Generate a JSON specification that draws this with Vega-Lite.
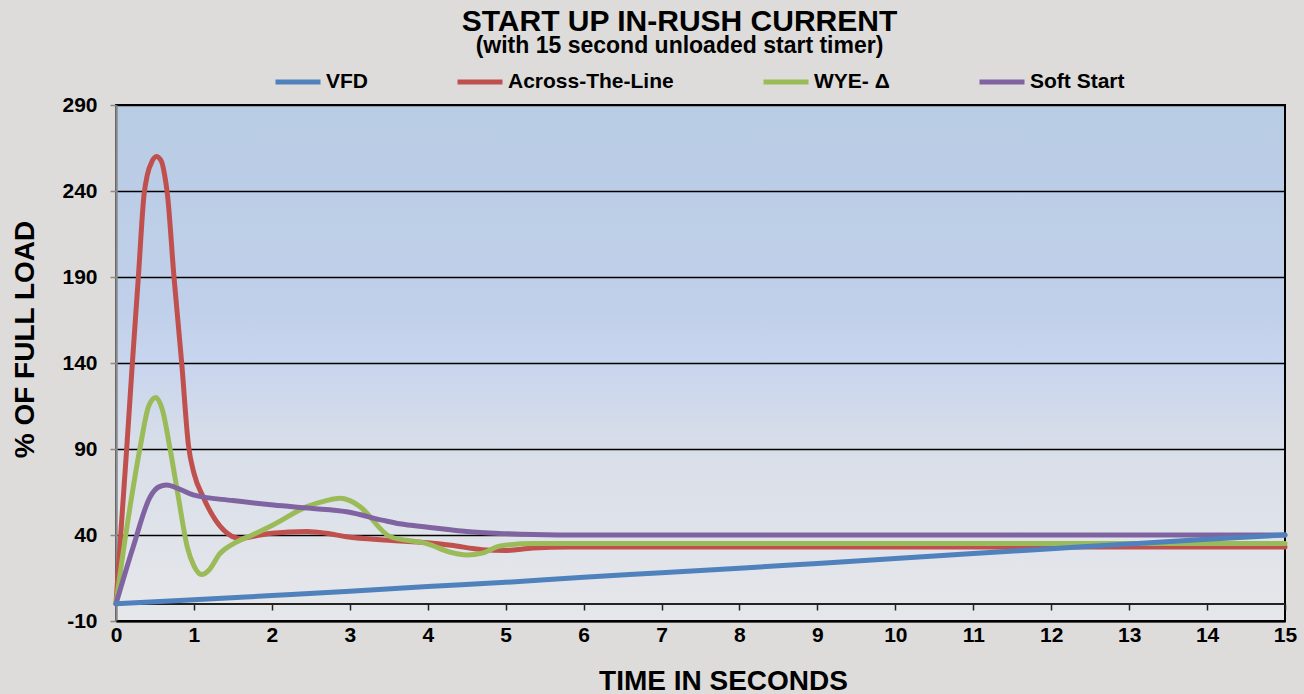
{
  "$schema": "https://vega.github.io/schema/vega-lite/v6.json",
  "width": 1169,
  "height": 516,
  "autosize": {"type": "none"},
  "padding": {"left": 116, "top": 105, "right": 19, "bottom": 73},
  "background": "#dddcda",
  "title": {
    "text": "START UP IN-RUSH CURRENT",
    "subtitle": "(with 15 second unloaded start timer)",
    "fontSize": 30,
    "fontWeight": "bold",
    "subtitleFontSize": 23,
    "subtitleFontWeight": "bold",
    "subtitleColor": "#000000",
    "color": "#000000",
    "subtitlePadding": -2,
    "anchor": "middle",
    "frame": "group",
    "dx": -21,
    "offset": -1
  },
  "data": {
    "values": [
      {"s": "Across-The-Line", "t": 0, "v": 0},
      {"s": "Across-The-Line", "t": 0.06, "v": 40},
      {"s": "Across-The-Line", "t": 0.137, "v": 90},
      {"s": "Across-The-Line", "t": 0.21, "v": 140},
      {"s": "Across-The-Line", "t": 0.287, "v": 190},
      {"s": "Across-The-Line", "t": 0.36, "v": 238},
      {"s": "Across-The-Line", "t": 0.40, "v": 249},
      {"s": "Across-The-Line", "t": 0.46, "v": 257},
      {"s": "Across-The-Line", "t": 0.52, "v": 260},
      {"s": "Across-The-Line", "t": 0.585, "v": 257},
      {"s": "Across-The-Line", "t": 0.625, "v": 249},
      {"s": "Across-The-Line", "t": 0.66, "v": 238},
      {"s": "Across-The-Line", "t": 0.744, "v": 190},
      {"s": "Across-The-Line", "t": 0.843, "v": 140},
      {"s": "Across-The-Line", "t": 0.93, "v": 92},
      {"s": "Across-The-Line", "t": 1.0, "v": 76},
      {"s": "Across-The-Line", "t": 1.12, "v": 62},
      {"s": "Across-The-Line", "t": 1.377, "v": 43},
      {"s": "Across-The-Line", "t": 1.59, "v": 38},
      {"s": "Across-The-Line", "t": 1.8, "v": 39.5},
      {"s": "Across-The-Line", "t": 2.0, "v": 41},
      {"s": "Across-The-Line", "t": 2.45, "v": 42},
      {"s": "Across-The-Line", "t": 2.7, "v": 41},
      {"s": "Across-The-Line", "t": 2.96, "v": 39},
      {"s": "Across-The-Line", "t": 3.5, "v": 37},
      {"s": "Across-The-Line", "t": 4.0, "v": 35.5},
      {"s": "Across-The-Line", "t": 4.3, "v": 34},
      {"s": "Across-The-Line", "t": 4.7, "v": 31.5},
      {"s": "Across-The-Line", "t": 5.0, "v": 31},
      {"s": "Across-The-Line", "t": 5.35, "v": 32.5},
      {"s": "Across-The-Line", "t": 5.8, "v": 33},
      {"s": "Across-The-Line", "t": 7, "v": 33},
      {"s": "Across-The-Line", "t": 10, "v": 33},
      {"s": "Across-The-Line", "t": 15, "v": 33},
      {"s": "WYE- Δ", "t": 0, "v": 0},
      {"s": "WYE- Δ", "t": 0.07, "v": 23},
      {"s": "WYE- Δ", "t": 0.2, "v": 62},
      {"s": "WYE- Δ", "t": 0.31, "v": 91},
      {"s": "WYE- Δ", "t": 0.42, "v": 115},
      {"s": "WYE- Δ", "t": 0.51, "v": 120},
      {"s": "WYE- Δ", "t": 0.6, "v": 112},
      {"s": "WYE- Δ", "t": 0.69, "v": 91},
      {"s": "WYE- Δ", "t": 0.8, "v": 62},
      {"s": "WYE- Δ", "t": 0.915, "v": 33},
      {"s": "WYE- Δ", "t": 1.0, "v": 22},
      {"s": "WYE- Δ", "t": 1.1, "v": 17},
      {"s": "WYE- Δ", "t": 1.2, "v": 20},
      {"s": "WYE- Δ", "t": 1.33, "v": 29},
      {"s": "WYE- Δ", "t": 1.51, "v": 35},
      {"s": "WYE- Δ", "t": 1.75, "v": 40},
      {"s": "WYE- Δ", "t": 2.02, "v": 46},
      {"s": "WYE- Δ", "t": 2.45, "v": 56.5},
      {"s": "WYE- Δ", "t": 2.7, "v": 60},
      {"s": "WYE- Δ", "t": 2.87, "v": 61.3},
      {"s": "WYE- Δ", "t": 3.0, "v": 60},
      {"s": "WYE- Δ", "t": 3.13, "v": 56.5},
      {"s": "WYE- Δ", "t": 3.52, "v": 39},
      {"s": "WYE- Δ", "t": 3.99, "v": 35},
      {"s": "WYE- Δ", "t": 4.29, "v": 30},
      {"s": "WYE- Δ", "t": 4.5, "v": 28.4},
      {"s": "WYE- Δ", "t": 4.7, "v": 29.5},
      {"s": "WYE- Δ", "t": 4.93, "v": 33.6},
      {"s": "WYE- Δ", "t": 5.35, "v": 35},
      {"s": "WYE- Δ", "t": 6, "v": 35},
      {"s": "WYE- Δ", "t": 10, "v": 35},
      {"s": "WYE- Δ", "t": 15, "v": 35},
      {"s": "Soft Start", "t": 0, "v": 0},
      {"s": "Soft Start", "t": 0.22, "v": 33},
      {"s": "Soft Start", "t": 0.436, "v": 62},
      {"s": "Soft Start", "t": 0.55, "v": 68},
      {"s": "Soft Start", "t": 0.65, "v": 69},
      {"s": "Soft Start", "t": 0.8, "v": 67},
      {"s": "Soft Start", "t": 0.99, "v": 63.3},
      {"s": "Soft Start", "t": 1.5, "v": 60},
      {"s": "Soft Start", "t": 2.02, "v": 57.4},
      {"s": "Soft Start", "t": 2.5, "v": 55.5},
      {"s": "Soft Start", "t": 2.96, "v": 53.5},
      {"s": "Soft Start", "t": 3.43, "v": 48.5},
      {"s": "Soft Start", "t": 3.64, "v": 46.5},
      {"s": "Soft Start", "t": 4.0, "v": 44.5},
      {"s": "Soft Start", "t": 4.29, "v": 43},
      {"s": "Soft Start", "t": 4.5, "v": 42},
      {"s": "Soft Start", "t": 5.0, "v": 40.8},
      {"s": "Soft Start", "t": 5.35, "v": 40.3},
      {"s": "Soft Start", "t": 6, "v": 40},
      {"s": "Soft Start", "t": 10, "v": 40},
      {"s": "Soft Start", "t": 15, "v": 40},
      {"s": "VFD", "t": 0, "v": 0},
      {"s": "VFD", "t": 1, "v": 2.3},
      {"s": "VFD", "t": 2, "v": 4.8},
      {"s": "VFD", "t": 3, "v": 7.3},
      {"s": "VFD", "t": 4, "v": 10},
      {"s": "VFD", "t": 5, "v": 12.5},
      {"s": "VFD", "t": 6, "v": 15.5},
      {"s": "VFD", "t": 7, "v": 18},
      {"s": "VFD", "t": 8, "v": 20.7},
      {"s": "VFD", "t": 9, "v": 23.5},
      {"s": "VFD", "t": 10, "v": 26.3},
      {"s": "VFD", "t": 11, "v": 29.2},
      {"s": "VFD", "t": 12, "v": 32},
      {"s": "VFD", "t": 13, "v": 34.8},
      {"s": "VFD", "t": 14, "v": 37.5},
      {"s": "VFD", "t": 15, "v": 40}
    ]
  },
  "layer": [
    {
      "mark": {"type": "rule", "color": "#222222", "strokeWidth": 1.5},
      "encoding": {
        "x": {
          "datum": 0,
          "type": "quantitative",
          "scale": {"domain": [0, 15], "nice": false, "zero": false},
          "axis": {
            "orient": "bottom",
            "offset": -17,
            "domain": false,
            "labels": false,
            "grid": false,
            "ticks": true,
            "tickSize": 6,
            "tickColor": "#222222",
            "tickWidth": 1.5,
            "values": [1, 2, 3, 4, 5, 6, 7, 8, 9, 10, 11, 12, 13, 14, 15],
            "title": null,
            "zindex": 0
          }
        },
        "x2": {"datum": 15},
        "y": {"datum": 0, "type": "quantitative"}
      }
    },
    {
      "mark": {"type": "line", "strokeWidth": 5, "interpolate": "monotone", "strokeCap": "round", "strokeJoin": "round"},
      "encoding": {
        "x": {
          "field": "t",
          "type": "quantitative",
          "scale": {"domain": [0, 15], "nice": false, "zero": false},
          "axis": {
            "orient": "bottom",
            "values": [0, 1, 2, 3, 4, 5, 6, 7, 8, 9, 10, 11, 12, 13, 14, 15],
            "ticks": false,
            "grid": false,
            "domain": true,
            "domainColor": "#000000",
            "domainWidth": 2,
            "labelFontSize": 21,
            "labelFontWeight": "bold",
            "labelColor": "#000000",
            "labelPadding": 3,
            "labelFlush": false,
            "labelOverlap": false,
            "title": "TIME IN SECONDS",
            "titleFontSize": 28,
            "titleFontWeight": "bold",
            "titleColor": "#000000",
            "titleX": 607,
            "titleY": 68,
            "titleBaseline": "alphabetic",
            "titleAlign": "center",
            "zindex": 1
          }
        },
        "y": {
          "field": "v",
          "type": "quantitative",
          "scale": {"domain": [-10, 290], "nice": false, "zero": false},
          "axis": {
            "values": [-10, 40, 90, 140, 190, 240, 290],
            "labelExpr": "replace(datum.label, '−', '-')",
            "grid": true,
            "gridColor": "#000000",
            "gridWidth": 1.5,
            "domain": true,
            "domainColor": "#8a8a8a",
            "domainWidth": 2.5,
            "ticks": true,
            "tickColor": "#8a8a8a",
            "tickSize": 6,
            "tickWidth": 1.5,
            "labelFontSize": 21,
            "labelFontWeight": "bold",
            "labelColor": "#000000",
            "labelPadding": 13,
            "labelFlush": false,
            "labelOverlap": false,
            "title": "% OF FULL LOAD",
            "titleFontSize": 28,
            "titleFontWeight": "bold",
            "titleColor": "#000000",
            "titleX": -83,
            "titleY": 234,
            "titleAngle": -90,
            "titleBaseline": "alphabetic",
            "titleAlign": "center",
            "zindex": 0
          }
        },
        "color": {
          "field": "s",
          "type": "nominal",
          "scale": {
            "domain": ["VFD", "Across-The-Line", "WYE- Δ", "Soft Start"],
            "range": ["#4f81bd", "#c0504d", "#9bbb59", "#8064a2"]
          },
          "legend": {
            "title": null,
            "orient": "none",
            "legendX": 157,
            "legendY": -48,
            "direction": "horizontal",
            "columns": 4,
            "gridAlign": "none",
            "columnPadding": 79,
            "symbolType": "stroke",
            "symbolSize": 2025,
            "symbolStrokeWidth": 5,
            "labelFontSize": 21,
            "labelFontWeight": "bold",
            "labelColor": "#000000",
            "labelOffset": 3,
            "labelLimit": 400,
            "padding": 0
          }
        }
      }
    }
  ],
  "resolve": {"axis": {"x": "independent"}},
  "config": {
    "font": "Liberation Sans",
    "view": {
      "fill": {
        "gradient": "linear",
        "x1": 0, "y1": 0, "x2": 0, "y2": 1,
        "stops": [
          {"offset": 0, "color": "#b8cce4"},
          {"offset": 0.4, "color": "#c1d0ea"},
          {"offset": 0.5, "color": "#c8d5ee"},
          {"offset": 0.66, "color": "#d8dee9"},
          {"offset": 1, "color": "#e6e7ea"}
        ]
      },
      "stroke": "#000000",
      "strokeWidth": 2
    }
  }
}
